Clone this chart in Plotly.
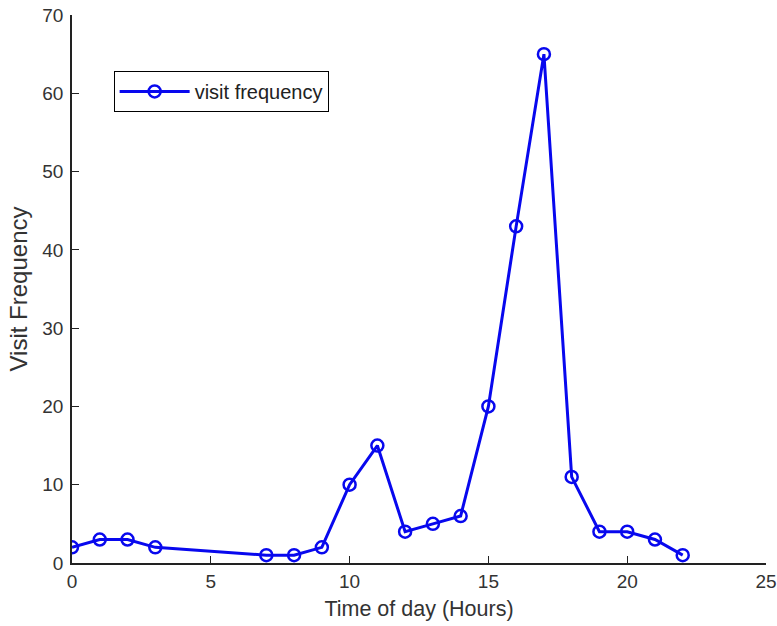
import plotly.graph_objects as go

hours = [0, 1, 2, 3, 7, 8, 9, 10, 11, 12, 13, 14, 15, 16, 17, 18, 19, 20, 21, 22]
visits = [2, 3, 3, 2, 1, 1, 2, 10, 15, 4, 5, 6, 20, 43, 65, 11, 4, 4, 3, 1]
x_ticks = [0, 5, 10, 15, 20, 25]
y_ticks = [0, 10, 20, 30, 40, 50, 60, 70]

fig = go.Figure()
fig.add_trace(go.Scatter(
    x=hours, y=visits, mode="lines+markers", name="visit frequency",
    line=dict(color="#0808ee", width=3),
    marker=dict(symbol="circle-open", size=12, color="#0808ee", line=dict(width=2.5)),
))

font = "Liberation Sans, Arial, sans-serif"
fig.update_layout(
    width=777, height=626,
    margin=dict(l=72, r=11, t=15, b=63),
    plot_bgcolor="white", paper_bgcolor="white",
    font=dict(family=font, color="#333333", size=19),
    showlegend=True,
    legend=dict(
        x=0.06, y=0.898, xanchor="left", yanchor="top",
        bordercolor="black", borderwidth=1, bgcolor="white",
        font=dict(size=20, color="#222222"), itemwidth=70,
    ),
    xaxis=dict(
        range=[0, 25], tickvals=x_ticks, ticks="inside", ticklen=7,
        tickcolor="#222", showline=True, linecolor="#222", linewidth=1.5,
        showgrid=False, zeroline=False, automargin=False,
        tickfont=dict(size=19), ticklabeloverflow="allow",
        title=dict(text="Time of day (Hours)", font=dict(size=21.5), standoff=10),
    ),
    yaxis=dict(
        range=[0, 70], tickvals=y_ticks, ticks="inside", ticklen=7,
        tickcolor="#222", showline=True, linecolor="#222", linewidth=1.5,
        showgrid=False, zeroline=False, automargin=False,
        tickfont=dict(size=19), ticklabelstandoff=3, ticklabeloverflow="allow",
        title=dict(text="Visit Frequency", font=dict(size=24), standoff=8),
    ),
)
fig.write_html(
    "out.html",
    config={"displayModeBar": False},
    post_script="document.body.style.margin='0';document.body.style.overflow='hidden';",
)
